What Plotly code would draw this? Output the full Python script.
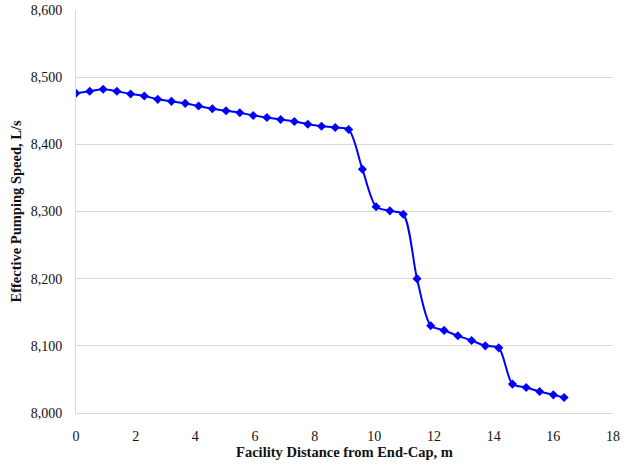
import plotly.graph_objects as go

# distance from end-cap (m) and effective pumping speed (L/s)
distance_m = [0.00, 0.46, 0.91, 1.37, 1.83, 2.29, 2.74, 3.20, 3.66, 4.11,
              4.57, 5.03, 5.49, 5.94, 6.40, 6.86, 7.32, 7.77, 8.23, 8.69,
              9.14, 9.60, 10.06, 10.52, 10.97, 11.43, 11.89, 12.34, 12.80, 13.26,
              13.72, 14.17, 14.63, 15.09, 15.54, 16.00, 16.36]
speed_ls = [8476, 8479, 8482, 8479, 8475, 8472, 8467, 8464, 8461, 8457,
            8453, 8450, 8447, 8443, 8440, 8437, 8434, 8430, 8427, 8425,
            8422, 8363, 8307, 8301, 8296, 8200, 8130, 8123, 8115, 8108,
            8100, 8097, 8043, 8038, 8032, 8027, 8023]

x_ticks = [0, 2, 4, 6, 8, 10, 12, 14, 16, 18]
y_ticks = [8000, 8100, 8200, 8300, 8400, 8500, 8600]

serif = "Liberation Serif, Times New Roman, serif"

fig = go.Figure(go.Scatter(
    x=distance_m,
    y=speed_ls,
    mode="lines+markers",
    line=dict(color="#0000ff", width=2, shape="spline", smoothing=0.8),
    marker=dict(symbol="diamond", size=7, color="#0000ff"),
    showlegend=False,
))

fig.update_layout(
    width=624,
    height=466,
    margin=dict(l=76, r=11, t=10, b=53),
    paper_bgcolor="white",
    plot_bgcolor="white",
    font=dict(family=serif, size=14, color="#111"),
)

fig.update_xaxes(
    range=[0, 18],
    tickvals=x_ticks,
    ticktext=[str(v) for v in x_ticks],
    showgrid=False,
    zeroline=False,
    showline=True,
    linecolor="#d9d9d9",
    linewidth=1,
    ticks="outside",
    ticklen=10,
    tickcolor="rgba(0,0,0,0)",
    tickfont=dict(family=serif, size=14),
    title=dict(text="<b>Facility Distance from End-Cap, m</b>",
               font=dict(family=serif, size=14.5), standoff=4),
    automargin=False,
)

fig.update_yaxes(
    range=[8000, 8600],
    tickvals=y_ticks,
    ticktext=[f"{v:,}" for v in y_ticks],
    showgrid=True,
    gridcolor="#d9d9d9",
    gridwidth=1,
    zeroline=False,
    showline=True,
    linecolor="#d9d9d9",
    linewidth=1,
    ticks="outside",
    ticklen=10,
    tickcolor="rgba(0,0,0,0)",
    tickfont=dict(family=serif, size=14),
    title=dict(text="<b>Effective Pumping Speed, L/s</b>",
               font=dict(family=serif, size=14.5), standoff=5),
    automargin=False,
)

# drop the browser's default body margin so the 624x466 figure fills the window
fig.write_html(
    "out.html",
    config={"displayModeBar": False},
    post_script="document.body.style.margin='0';",
)
